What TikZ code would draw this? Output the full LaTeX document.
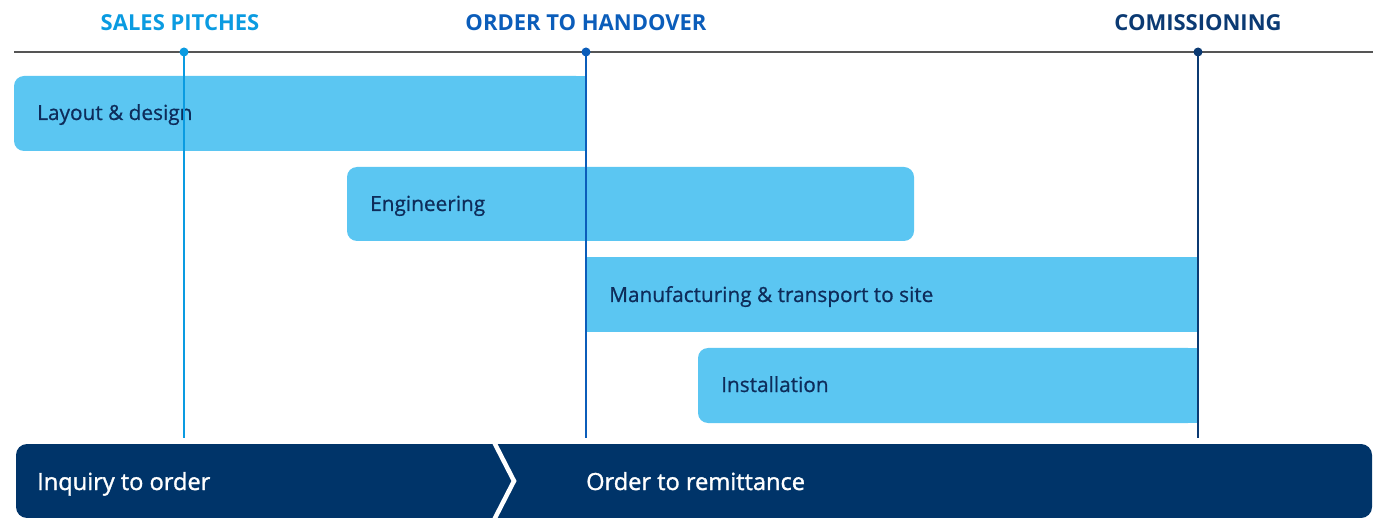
\documentclass[tikz,border=0pt]{standalone}
\usepackage{fontspec}
\setmainfont{Open Sans}
\newfontfamily\medfont[FakeBold=0.7]{Open Sans}
\newfontfamily\semifont[FakeBold=1.3]{Open Sans}
\definecolor{barc}{HTML}{5BC6F2}
\definecolor{salesc}{HTML}{0A9BE1}
\definecolor{orderc}{HTML}{0B5DBA}
\definecolor{comc}{HTML}{0B3A73}
\definecolor{navy}{HTML}{003469}
\definecolor{bartext}{HTML}{0E2C5A}
\definecolor{axisc}{HTML}{555555}
\tikzset{
  bartxt/.style={anchor=base west, inner sep=0pt, text=bartext, font=\medfont\fontsize{20.8}{24}\selectfont},
  milestone/.style={anchor=base, inner sep=0pt, font=\bfseries\fontsize{22}{26}\selectfont},
  bottomtxt/.style={anchor=base west, inner sep=0pt, text=white, font=\semifont\fontsize{23.6}{28}\selectfont},
  vline/.style={line width=2.5pt},
  dotc/.style={circle, fill, inner sep=0pt, minimum size=9pt},
}
\begin{document}
\begin{tikzpicture}[x=1pt,y=-1pt]
\useasboundingbox (0,0) rectangle (1373,518);
% axis
\coordinate (axL) at (14,52);
\coordinate (axR) at (1373,52);
\draw[axisc, line width=1.2pt] (axL) -- (axR);
% bars
\fill[barc, rounded corners=10pt] (14,76) rectangle (586,151);
\fill[barc] (560,76) rectangle (586,151);
\fill[barc, rounded corners=10pt] (347,167) rectangle (914,241);
\fill[barc] (586,257) rectangle (1198,332);
\fill[barc, rounded corners=10pt] (698,348) rectangle (1198,423);
\fill[barc] (1170,348) rectangle (1198,423);
\node[bartxt] (layout) at (37,120) {Layout \& design};
\node[bartxt] (eng) at (370,211) {Engineering};
\node[bartxt] (manu) at (609,302) {Manufacturing \& transport to site};
\node[bartxt] (inst) at (721,392) {Installation};
% bottom band
\fill[navy, rounded corners=11pt] (16,444) rectangle (1372,518);
\coordinate (chT) at (494,442);
\coordinate (chM) at (514,481);
\coordinate (chB) at (494,520);
\draw[white, line width=4.5pt, line join=miter] (chT) -- (chM) -- (chB);
\node[bottomtxt] (inq) at (37,490) {Inquiry to order};
\node[bottomtxt] (rem) at (586,490) {Order to remittance};
% milestones
\node[milestone, text=salesc] (sales) at (180,31) {SALES PITCHES};
\node[milestone, text=orderc] (order) at (586,31) {ORDER TO HANDOVER};
\node[milestone, text=comc] (com) at (1198,31) {COMISSIONING};
\coordinate (salesT) at (184,52);
\coordinate (salesB) at (184,438);
\coordinate (orderT) at (586,52);
\coordinate (orderB) at (586,438);
\coordinate (comT) at (1198,52);
\coordinate (comB) at (1198,438);
\draw[vline, salesc] (salesT) -- (salesB);
\draw[vline, orderc] (orderT) -- (orderB);
\draw[vline, comc] (comT) -- (comB);
\node[dotc, salesc] at (salesT) {};
\node[dotc, orderc] at (orderT) {};
\node[dotc, comc] at (comT) {};
\end{tikzpicture}
\end{document}
